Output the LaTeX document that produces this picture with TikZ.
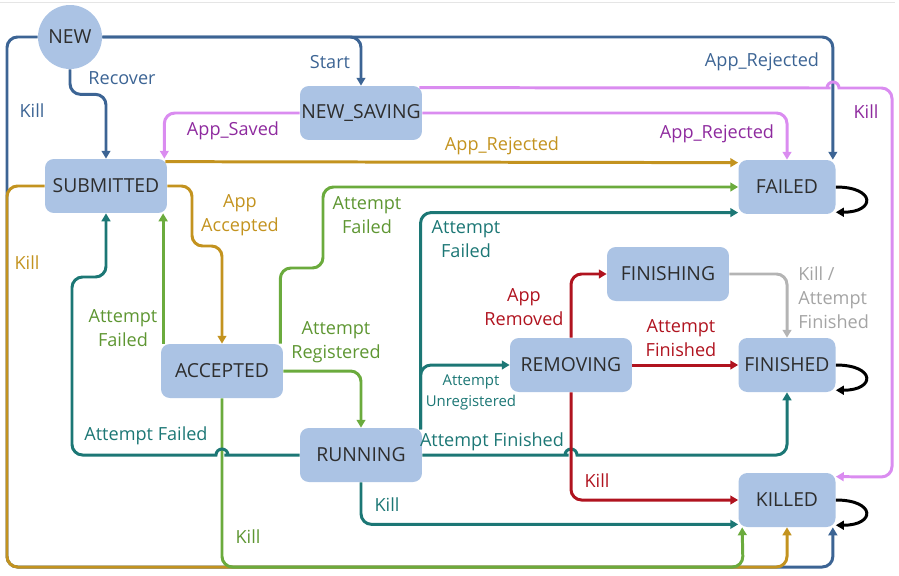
\documentclass[tikz,border=0pt]{standalone}
\usepackage{fontspec}
\setmainfont{Open Sans}
\usetikzlibrary{arrows.meta,calc}

\definecolor{statefill}{HTML}{ABC3E4}
\definecolor{statetext}{HTML}{2E2E2E}
\definecolor{newblue}{HTML}{3C6494}
\definecolor{subgold}{HTML}{C3931F}
\definecolor{savline}{HTML}{DA8CF0}
\definecolor{savtext}{HTML}{8E2A9E}
\definecolor{accgreen}{HTML}{6BAB3D}
\definecolor{acctext}{HTML}{5E9632}
\definecolor{runteal}{HTML}{1C7775}
\definecolor{remred}{HTML}{B0131F}
\definecolor{fingray}{HTML}{B4B4B4}
\definecolor{fintext}{HTML}{A4A4A4}

\tikzstyle{statebox}=[rectangle, rounded corners=5pt, fill=statefill, text=statetext, minimum width=2.44cm, minimum height=1.08cm, inner sep=0pt, font=\fontsize{11}{13}\selectfont]
\tikzstyle{smallbox}=[statebox, minimum width=1.94cm]
\tikzstyle{trans}=[line width=1.7pt, rounded corners=6pt, -{Triangle[length=4.5pt,width=5pt]}]
\tikzstyle{lbl}=[font=\fontsize{10.3}{13.6}\selectfont, align=center, inner sep=0pt]

\begin{document}
\begin{tikzpicture}[x=0.02cm, y=-0.02cm]
\useasboundingbox (0,0) rectangle (899,575);
\draw[black!10] (0,2) -- (895,2);
% States
    \node[circle, fill=statefill, text=statetext, minimum size=1.28cm, inner sep=0pt, font=\fontsize{11}{13}\selectfont] (NEW) at (70,37) {NEW};
    \node[statebox] (NEWSAVING) at (361,113) {NEW\_SAVING};
    \node[statebox] (SUBMITTED) at (106,186) {SUBMITTED};
    \node[statebox] (ACCEPTED) at (222,371) {ACCEPTED};
    \node[statebox] (RUNNING) at (361,455) {RUNNING};
    \node[statebox] (REMOVING) at (571,365) {REMOVING};
    \node[statebox] (FINISHING) at (668,274) {FINISHING};
    \node[smallbox] (FAILED) at (787,187) {FAILED};
    \node[smallbox] (FINISHED) at (787,365) {FINISHED};
    \node[smallbox] (KILLED) at (787,500) {KILLED};
% From NEW
    \draw[trans, newblue] (NEW.east) -| (NEWSAVING.north);
    \draw[trans, newblue] (NEW.east) -| ($(FAILED.north east)+(-3,0)$);
    \draw[trans, newblue] (NEW.west) -| (7,567) -| ($(KILLED.south east)+(-3,0)$);
    \draw[trans, newblue] (NEW.south) -- ++(0,25) -| (SUBMITTED.north);
% From SUBMITTED
    \draw[trans, subgold] (SUBMITTED.west) -| (7,567) -| (KILLED.south);
    \draw[trans, subgold] ($(SUBMITTED.north east)+(-2,3)$) -- ($(FAILED.north west)+(0,3)$);
    \draw[trans, subgold] (SUBMITTED.east) -| (192,246) -| (ACCEPTED.north);
% From NEW_SAVING
    \draw[trans, savline] (NEWSAVING.west) -| ($(SUBMITTED.north east)+(-3,0)$);
    \draw[trans, savline] (NEWSAVING.east) -| (FAILED.north);
    \draw[trans, savline] ($(NEWSAVING.north east)+(-3,2)$) -- (820,88) [sharp corners] -- (827,88)
        arc[start angle=180, end angle=360, radius=6] -- (841,88) [rounded corners=6pt] -| (892,477) -- ($(KILLED.north east)+(0,4)$);
% From ACCEPTED
    \draw[trans, accgreen] ([xshift=1.4pt]ACCEPTED.north west) -- ([xshift=1.4pt]ACCEPTED.north west |- SUBMITTED.south);
    \draw[trans, accgreen] ([xshift=-1.7pt]ACCEPTED.north east) |- (323,268) |- (FAILED.west);
    \draw[trans, accgreen] (ACCEPTED.east) -| (RUNNING.north);
    \draw[trans, accgreen] (ACCEPTED.south) |- (743,567) -- ($(KILLED.south west)+(4,0)$);
% From RUNNING
    \draw[trans, runteal] (RUNNING.west) -- (235,455) [sharp corners] -- (228,455)
        arc[start angle=0, end angle=-180, radius=6] -- (214,455) [rounded corners=6pt] -| (72,277) -| (SUBMITTED.south);
    \draw[trans, runteal] ([xshift=-1pt,yshift=-1pt]RUNNING.north east) |- ([yshift=1pt]FAILED.south west);
    \draw[trans, runteal] ([xshift=-1pt,yshift=-1pt]RUNNING.north east) |- (REMOVING.west);
    \draw[trans, runteal] (RUNNING.east) -- (558,455) [sharp corners] -- (565,455)
        arc[start angle=180, end angle=360, radius=6] -- (579,455) [rounded corners=6pt] -| (FINISHED.south);
    \draw[trans, runteal] (RUNNING.south) |- ([yshift=1.7pt]KILLED.south west);
% From REMOVING
    \draw[trans, remred] (REMOVING.north) |- (FINISHING.west);
    \draw[trans, remred] (REMOVING.east) -- (FINISHED.west);
    \draw[trans, remred] (REMOVING.south) |- (KILLED.west);
% From FINISHING
    \draw[trans, fingray] (FINISHING.east) -| (FINISHED.north);
% Self loops
    \foreach \s in {FAILED,FINISHED,KILLED}
        \draw[trans, black] (\s.east) .. controls +(40,0) and +(40,0) .. ([yshift=1.2pt]\s.south east);
% Labels
    \node[lbl, newblue] (lRecover) at (122,78) {Recover};
    \node[lbl, newblue] (lKillNew) at (32,111) {Kill};
    \node[lbl, newblue] (lStart) at (330,62) {Start};
    \node[lbl, newblue] (lRejNew) at (762,62) {App\_Rejected};
    \node[lbl, savtext] (lSaved) at (233,131) {App\_Saved};
    \node[lbl, savtext] (lRejSav) at (717,134) {App\_Rejected};
    \node[lbl, savtext] (lKillSav) at (866,112) {Kill};
    \node[lbl, subgold] (lRejSub) at (502,146) {App\_Rejected};
    \node[lbl, subgold] (lAccepted) at (240,215.5) {App\\Accepted};
    \node[lbl, subgold] (lKillSub) at (27,263) {Kill};
    \node[lbl, acctext] (lFailAcc) at (123,328) {Attempt\\Failed};
    \node[lbl, acctext] (lFailAcc2) at (367,215.5) {Attempt\\Failed};
    \node[lbl, acctext] (lRegistered) at (336,342) {Attempt\\Registered};
    \node[lbl, acctext] (lKillAcc) at (248,537) {Kill};
    \node[lbl, runteal] (lFailRun) at (146,436) {Attempt Failed};
    \node[lbl, runteal] (lFailRun2) at (466,239) {Attempt\\Failed};
    \node[lbl, runteal, font=\fontsize{8.5}{11.5}\selectfont] (lUnreg) at (471,392.5) {Attempt\\Unregistered};
    \node[lbl, runteal] (lFinRun) at (492,442) {Attempt Finished};
    \node[lbl, runteal] (lKillRun) at (387,505) {Kill};
    \node[lbl, remred] (lRemoved) at (524,307.5) {App\\Removed};
    \node[lbl, remred] (lFinRem) at (681,338) {Attempt\\Finished};
    \node[lbl, remred] (lKillRem) at (597,481) {Kill};
    \node[lbl, fintext, align=left, anchor=west] (lFinFin) at (798,297.5) {Kill /\\Attempt\\Finished};
\end{tikzpicture}
\end{document}
